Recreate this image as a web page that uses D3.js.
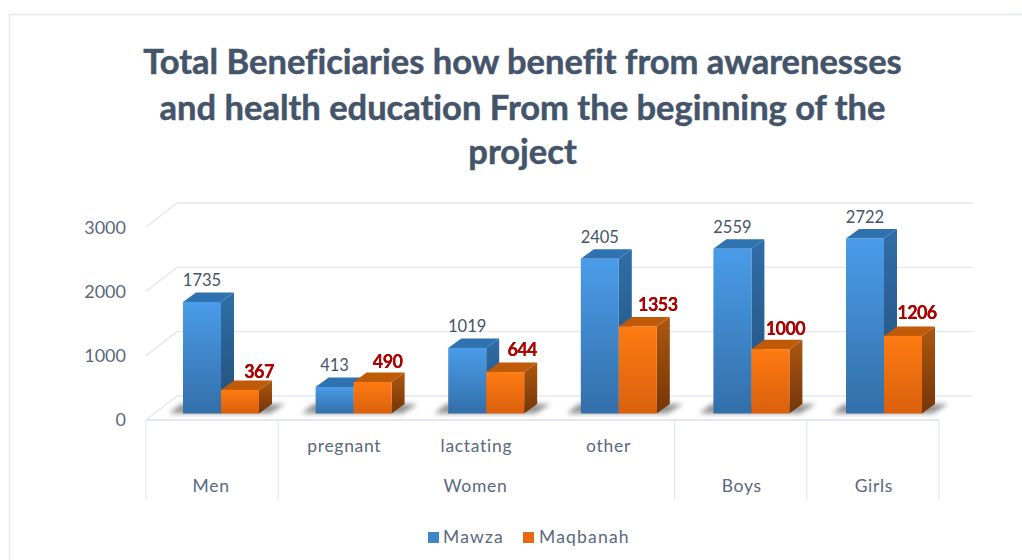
<!DOCTYPE html>
<html>
<head>
<meta charset="utf-8">
<script src="https://cdnjs.cloudflare.com/ajax/libs/d3/7.8.5/d3.min.js"></script>
<style>
html,body{margin:0;padding:0;background:#fff;overflow:hidden}
text{font-family:Lato,"Open Sans",sans-serif;font-variant-ligatures:none}
</style>
</head>
<body>
<svg id="chart" width="1022" height="560"></svg>
<script>
const titleLines = ["Total Beneficiaries how benefit from awarenesses","and health education From the beginning of the","project"];
const categories = ["Men","pregnant","lactating","other","Boys","Girls"];
const subLabels = ["","pregnant","lactating","other","",""];
const groupLabels = [{name:"Men",from:"Men",to:"Men"},{name:"Women",from:"pregnant",to:"other"},{name:"Boys",from:"Boys",to:"Boys"},{name:"Girls",from:"Girls",to:"Girls"}];
const seriesNames = ["Mawza","Maqbanah"];
const mawza = [1735,413,1019,2405,2559,2722];
const maqbanah = [367,490,644,1353,1000,1206];
const yTicks = [0,1000,2000,3000];

const svg = d3.select("#chart");
const defs = svg.append("defs");
function grad(id,a,b){
  const g=defs.append("linearGradient").attr("id",id).attr("x1",0).attr("y1",0).attr("x2",0).attr("y2",1);
  g.append("stop").attr("offset","0%").attr("stop-color",a);
  g.append("stop").attr("offset","100%").attr("stop-color",b);
}
grad("bf","#4a9ce9","#336fa9"); grad("bs","#2f6ea8","#234f7b");
grad("of","#ff7b12","#d9600c"); grad("os","#ad570f","#743607");
defs.append("filter").attr("id","blur").attr("x","-20%").attr("y","-80%").attr("width","140%").attr("height","260%")
  .append("feGaussianBlur").attr("stdDeviation",2.6);
const glow=defs.append("filter").attr("id","glow").attr("x","-20%").attr("y","-30%").attr("width","140%").attr("height","160%");
glow.append("feGaussianBlur").attr("in","SourceGraphic").attr("stdDeviation",0.6).attr("result","b");
const ml=glow.append("feMerge");
ml.append("feMergeNode").attr("in","b");ml.append("feMergeNode").attr("in","SourceGraphic");

// chart frame
svg.append("path").attr("d","M1022,14.5H9.5V560").attr("fill","none").attr("stroke","#e3e8f0").attr("stroke-width",1.5);

// title
svg.append("g").selectAll("text").data(titleLines).join("text")
  .attr("x",522.5).attr("y",(d,i)=>[74,119.5,164][i]).attr("text-anchor","middle")
  .attr("font-size",34.5).attr("font-weight",700).attr("fill","#44546a")
  .attr("stroke","#44546a").attr("stroke-width",.5).text(d=>d);

// scales
const x0 = d3.scaleBand().domain(categories).range([146,939]);
const xBars = d3.scaleBand().domain(categories).range([146,941.6]);
const x1 = d3.scaleBand().domain(seriesNames).range([0,76]);
const y = d3.scaleLinear().domain([0,3000]).range([413.5,220.5]);
const yAxisScale = d3.scaleLinear().domain([0,3000]).range([420,228]);
const yBack = d3.scaleLinear().domain([0,3000]).range([396,203]);
const barInset = 37, depthX = 13, depthY = 9.5;

// walls and gridlines
const gridColor="#e3e8f0";
const grid=svg.append("g").attr("fill","none").attr("stroke",gridColor).attr("stroke-width",1.4);
yTicks.forEach(t=>{
  grid.append("path").attr("d",`M146,${yBack(t)+24}L177,${yBack(t)}H973`);
});
grid.append("path").attr("d",`M146,420H939`).attr("stroke-width",2);
// category separators
const sepX=[x0("Men"),x0("pregnant"),x0("Boys"),x0("Girls"),x0("Girls")+x0.bandwidth()];
svg.append("g").selectAll("line").data(sepX).join("line")
  .attr("x1",d=>d).attr("x2",d=>d).attr("y1",420).attr("y2",500)
  .attr("stroke",gridColor).attr("stroke-width",1.2);

// y axis
const axis = d3.axisLeft(yAxisScale).tickValues(yTicks).tickFormat(d3.format("d")).tickSize(0).tickPadding(0);
const ag = svg.append("g").attr("transform","translate(126,0)").call(axis);
ag.select(".domain").remove();
ag.selectAll("text").attr("font-size",18).attr("font-family","Lato").attr("fill","#5a6880");

// shadows
const sh=svg.append("g").attr("filter","url(#blur)");
categories.forEach(c=>{
  const l=xBars(c)+barInset, r=l+76;
  sh.append("path").attr("d",`M${l-14},413.5L${l-2},404H${r+26}L${r+11},413.5Z`).attr("fill","#707070").attr("opacity",.75);
});

// bars
const series=[{name:"Mawza",vals:mawza,f:"url(#bf)",s:"url(#bs)",t:"#2f72b0"},{name:"Maqbanah",vals:maqbanah,f:"url(#of)",s:"url(#os)",t:"#bf5a09"}];
const barsG=svg.append("g");
series.forEach(se=>{
  const g=barsG.append("g").attr("class","series");
  const w=x1.bandwidth();
  const items=categories.map((c,i)=>({c,v:se.vals[i],x:xBars(c)+barInset+x1(se.name)}));
  g.selectAll("path.side").data(items).join("path").attr("class","side").attr("fill",se.s)
    .attr("d",d=>`M${d.x+w},${y(d.v)}l${depthX},${-depthY}V${y(0)-depthY}L${d.x+w},${y(0)}Z`);
  g.selectAll("path.top").data(items).join("path").attr("class","top").attr("fill",se.t)
    .attr("d",d=>`M${d.x},${y(d.v)}l${depthX},${-depthY}h${w}l${-depthX},${depthY}Z`);
  g.selectAll("rect").data(items).join("rect").attr("fill",se.f)
    .attr("x",d=>d.x).attr("y",d=>y(d.v)).attr("width",w).attr("height",d=>y(0)-y(d.v));
});

// data labels
const lab=svg.append("g");
lab.selectAll("text.a").data(categories).join("text").attr("class","a")
  .attr("x",c=>xBars(c)+barInset+x1("Mawza")+x1.bandwidth()/2)
  .attr("y",(c,i)=>y(mawza[i])-15.5).attr("text-anchor","middle")
  .attr("font-size",16.5).attr("fill","#44546a").text((c,i)=>mawza[i]);
const orangeDx=[19,15,17,20,15,14], orangeDy=[12,14,16,15,14,17];
lab.selectAll("text.b").data(categories).join("text").attr("class","b")
  .attr("x",(c,i)=>xBars(c)+barInset+x1("Maqbanah")+x1.bandwidth()/2+orangeDx[i])
  .attr("y",(c,i)=>y(maqbanah[i])-orangeDy[i]).attr("text-anchor","middle")
  .attr("font-size",18).attr("font-weight",700).attr("letter-spacing",-.6).attr("fill","#ad0505")
  .attr("filter","url(#glow)").text((c,i)=>maqbanah[i]);

// category labels
const cat=svg.append("g").attr("font-size",17.5).attr("letter-spacing",.7).attr("fill","#5a6880").attr("text-anchor","middle");
cat.selectAll("text.s").data(categories.filter((c,i)=>subLabels[i])).join("text").attr("class","s")
  .attr("x",c=>x0(c)+x0.bandwidth()/2).attr("y",452).text(c=>c);
cat.selectAll("text.g").data(groupLabels).join("text").attr("class","g")
  .attr("x",d=>(x0(d.from)+x0(d.to)+x0.bandwidth())/2+(d.name==="Boys"||d.name==="Girls"?1:-1)).attr("y",492).text(d=>d.name);

// legend
const lg=svg.append("g");
const legX=[428,523], legTx=[443,539], legFill=["#3f86c9","#e8680f"];
seriesNames.forEach((n,i)=>{
  lg.append("rect").attr("x",legX[i]).attr("y",532).attr("width",11).attr("height",11).attr("fill",legFill[i]);
  lg.append("text").attr("x",legTx[i]).attr("y",543).attr("font-size",17.5).attr("letter-spacing",1.2).attr("fill","#5a6880").text(n);
});
</script>
</body>
</html>
